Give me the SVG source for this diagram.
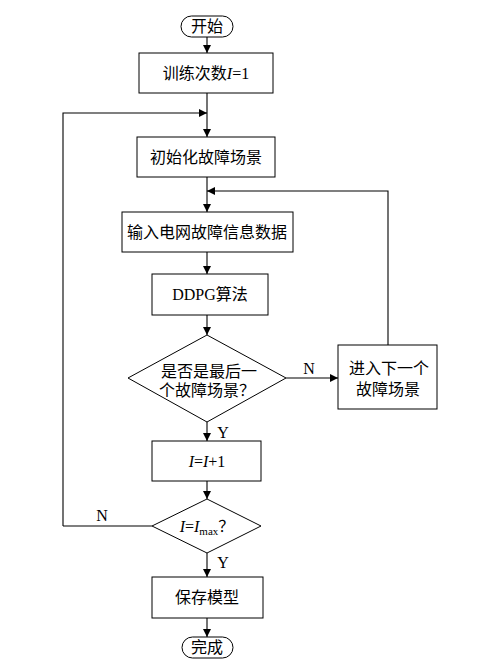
<svg xmlns="http://www.w3.org/2000/svg" width="482" height="666" viewBox="0 0 482 666">
<defs>
<marker id="ah" markerWidth="8" markerHeight="8" refX="8" refY="4" orient="auto" markerUnits="userSpaceOnUse"><path d="M0,0 L8,4 L0,8 Z" fill="#000"/></marker>
<style>
.s{fill:#fff;stroke:#000;stroke-width:1}
.c{fill:none;stroke:#000;stroke-width:1.1}
text{font-family:"Liberation Serif","Noto Sans CJK SC",serif;font-size:16px;fill:#000}
.m{text-anchor:middle}
</style>
</defs>
<rect width="482" height="666" fill="#fff"/>
<g id="connectors">
<path class="c" d="M207,37 V53" marker-end="url(#ah)"/>
<path class="c" d="M207,93 V137" marker-end="url(#ah)"/>
<path class="c" d="M63,526 V113 H207" marker-end="url(#ah)"/>
<path class="c" d="M207,177 V212" marker-end="url(#ah)"/>
<path class="c" d="M388,345 V191 H207" marker-end="url(#ah)"/>
<path class="c" d="M207,252 V274" marker-end="url(#ah)"/>
<path class="c" d="M207,315 V335" marker-end="url(#ah)"/>
<path class="c" d="M286,378 H338" marker-end="url(#ah)"/>
<path class="c" d="M207,422 V441" marker-end="url(#ah)"/>
<path class="c" d="M207,481 V499" marker-end="url(#ah)"/>
<path class="c" d="M152,526 H63"/>
<path class="c" d="M207,553 V577" marker-end="url(#ah)"/>
<path class="c" d="M207,618 V637" marker-end="url(#ah)"/>
<text x="309" y="374" class="m">N</text>
<text x="223" y="438" class="m">Y</text>
<text x="102" y="521" class="m">N</text>
<text x="223" y="568" class="m">Y</text>
</g>
<g id="start"><rect class="s" x="181" y="16" width="52" height="21" rx="10.5"/><text x="207" y="32" class="m">开始</text></g>
<g id="n1"><rect class="s" x="139" y="53" width="134" height="40"/><text x="206" y="79" class="m">训练次数<tspan font-style="italic">I</tspan>=1</text></g>
<g id="n2"><rect class="s" x="137" y="137" width="138" height="40"/><text x="206" y="163" class="m">初始化故障场景</text></g>
<g id="n3"><rect class="s" x="122" y="212" width="171" height="40"/><text x="207" y="238" class="m">输入电网故障信息数据</text></g>
<g id="n4"><rect class="s" x="152" y="274" width="116" height="41"/><text x="210" y="300" class="m">DDPG算法</text></g>
<g id="d1"><path class="s" d="M207,335 L286,378 L207,422 L128,378 Z"/><text x="209" y="377" class="m">是否是最后一</text><text x="207" y="396" class="m">个故障场景？</text></g>
<g id="n5"><rect class="s" x="338" y="345" width="99" height="64"/><text x="389" y="374" class="m">进入下一个</text><text x="388" y="395" class="m">故障场景</text></g>
<g id="n6"><rect class="s" x="152" y="441" width="109" height="40"/><text x="207" y="467" class="m"><tspan font-style="italic">I</tspan>=<tspan font-style="italic">I</tspan>+1</text></g>
<g id="d2"><path class="s" d="M207,499 L261,526 L207,553 L152,526 Z"/><text x="207" y="532" class="m"><tspan font-style="italic">I</tspan>=<tspan font-style="italic">I</tspan><tspan font-size="11" dy="3">max</tspan><tspan dy="-3">？</tspan></text></g>
<g id="n7"><rect class="s" x="152" y="577" width="111" height="41"/><text x="207" y="603" class="m">保存模型</text></g>
<g id="end"><rect class="s" x="182" y="637" width="51" height="21" rx="10.5"/><text x="207" y="653" class="m">完成</text></g>
</svg>
